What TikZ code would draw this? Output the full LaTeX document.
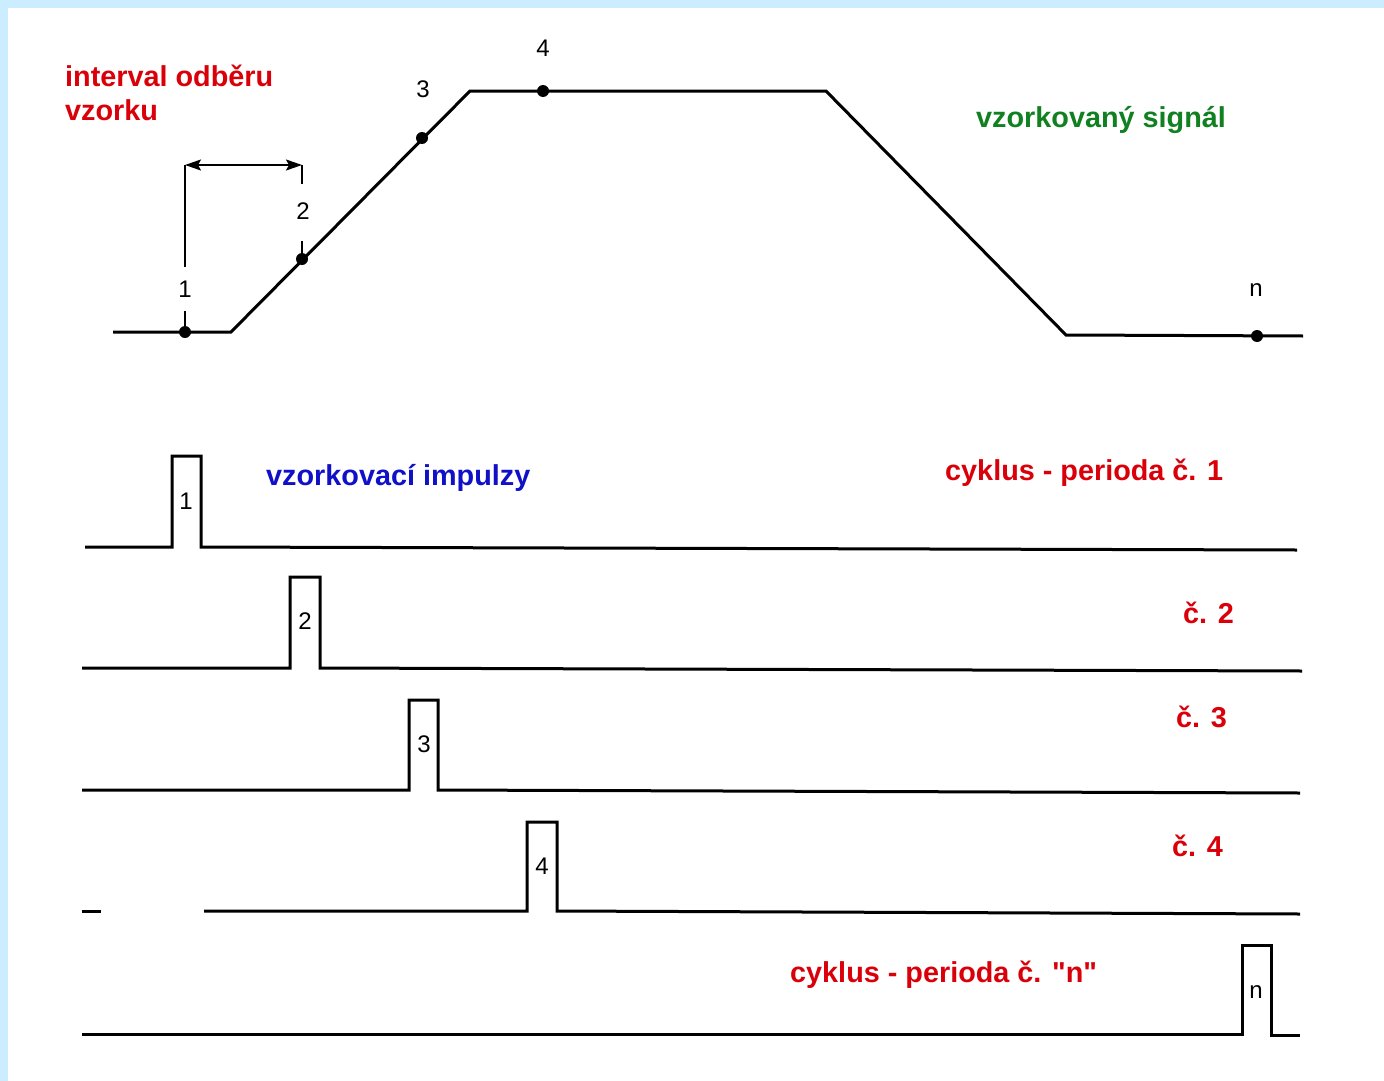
\documentclass[tikz,border=0pt]{standalone}
\usepackage{fontspec}
\setmainfont{Liberation Sans}[Ligatures=TeXOff]
\usepackage{tikz}
\usetikzlibrary{arrows.meta}

\definecolor{txtred}{RGB}{218,0,10}
\definecolor{txtgreen}{RGB}{16,128,32}
\definecolor{txtblue}{RGB}{16,16,200}
\definecolor{framebl}{RGB}{204,236,255}

\tikzset{
  wave/.style={line width=3pt, line join=miter},
  smp/.style={circle, fill=black, inner sep=0pt, minimum size=12pt},
  num/.style={font=\fontsize{24}{24}\selectfont, inner sep=0pt},
  title/.style={font=\fontsize{28.8}{33}\selectfont\bfseries, inner sep=0pt, anchor=base west},
  dimline/.style={line width=1.4pt},
  dimarrow/.style={line width=2pt, {Stealth[length=16pt,width=11pt,inset=3pt]}-{Stealth[length=16pt,width=11pt,inset=3pt]}},
}

\begin{document}
\begin{tikzpicture}[x=1pt,y=-1pt]
	% frame
	\fill[framebl] (0,0) rectangle (1384,1081);
	\fill[white] (8,8) rectangle (1384,1081);
	\useasboundingbox (0,0) rectangle (1384,1081);

	% sampled signal
	\coordinate (s0) at (113,332);
	\coordinate (sa) at (231,332);
	\coordinate (sb) at (470,91);
	\coordinate (sc) at (826,91);
	\coordinate (sd) at (1066,335);
	\coordinate (se) at (1303,336);
	\draw[wave] (s0) -- (sa) -- (sb) -- (sc) -- (sd) -- (se);

	\node[smp] (dot1) at (185,332) {};
	\node[smp] (dot2) at (302,259) {};
	\node[smp] (dot3) at (422,138) {};
	\node[smp] (dot4) at (543,91) {};
	\node[smp] (dotn) at (1257,336) {};

	\node[num] (lbl1) at (185,289) {1};
	\node[num] (lbl2) at (303,211) {2};
	\node[num] (lbl3) at (423,89) {3};
	\node[num] (lbl4) at (543,48) {4};
	\node[num] (lbln) at (1256,290) {n};

	% sample interval
	\coordinate (dimL) at (185,165);
	\coordinate (dimR) at (302,165);
	\coordinate (dimLb) at (185,267);
	\coordinate (dimLc) at (185,311);
	\coordinate (dimRb) at (302,184);
	\coordinate (dimRc) at (302,241);
	\draw[dimline] (dimL) -- (dimLb) (dimLc) -- (dot1);
	\draw[dimline] (dimR) -- (dimRb) (dimRc) -- (dot2);
	\draw[dimarrow] (dimL) -- (dimR);

	\node[title, txtred] (intv) at (65,87) {interval odběru};
	\node[title, txtred] (intv2) at (65,120) {vzorku};
	\node[title, txtgreen] (sig) at (976,127) {vzorkovaný signál};

	% sampling pulses
	\node[title, txtblue] (imp) at (266,485) {vzorkovací impulzy};

	\draw[wave] (85,547) -- (172,547) -- (172,456) -- (201,456) -- (201,547) -- (1297,550);
	\node[num] (p1) at (186,501) {1};
	\node[title, txtred] (cyc1) at (945,480) {cyklus - perioda č. 1};

	\draw[wave] (82,668) -- (290,668) -- (290,577) -- (320,577) -- (320,668) -- (1302,671);
	\node[num] (p2) at (305,621) {2};
	\node[title, txtred] (cyc2) at (1183,623) {č. 2};

	\draw[wave] (82,790) -- (409,790) -- (409,700) -- (438,700) -- (438,790) -- (1300,793);
	\node[num] (p3) at (424,744) {3};
	\node[title, txtred] (cyc3) at (1176,727) {č. 3};

	\draw[wave] (82,911) -- (101,911);
	\draw[wave] (204,911) -- (527,911) -- (527,822) -- (557,822) -- (557,911) -- (1300,914);
	\node[num] (p4) at (542,866) {4};
	\node[title, txtred] (cyc4) at (1172,856) {č. 4};

	\draw[wave] (82,1034) -- (1242,1034) -- (1242,945) -- (1271,945) -- (1271,1035) -- (1300,1035);
	\node[num] (pn) at (1256,992) {n};
	\node[title, txtred] (cycn) at (790,982) {cyklus - perioda č. "n"};
\end{tikzpicture}
\end{document}
